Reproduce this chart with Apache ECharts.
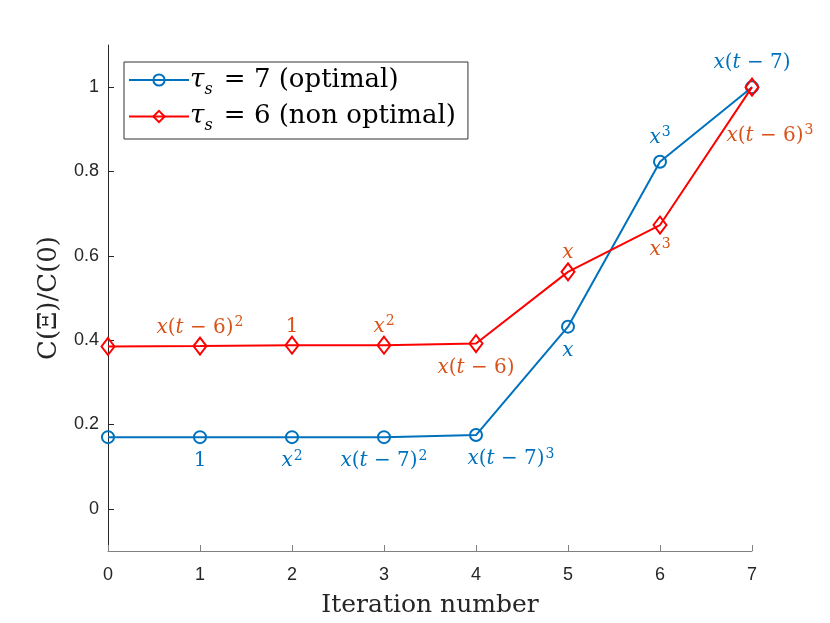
<!DOCTYPE html>
<html>
<head>
<meta charset="utf-8">
<script src="https://cdn.jsdelivr.net/npm/echarts@6/dist/echarts.min.js"></script>
<style>
  html, body { margin: 0; padding: 0; background: #fff; }
  #main { width: 830px; height: 623px; }
</style>
</head>
<body>
<div id="main"></div>
<script>
// iterations on the x axis
var iterations = [0, 1, 2, 3, 4, 5, 6, 7];

// C(Xi)/C(0) for each run
var optimalValues = [0.170, 0.170, 0.170, 0.170, 0.175, 0.432, 0.823, 1.000];
var nonOptimalValues = [0.385, 0.386, 0.388, 0.388, 0.392, 0.562, 0.673, 1.000];

// text next to each point ('' = none)
var optimalLabels = ['', '1', 'x^2', 'x(t − 7)^2', 'x(t − 7)^3', 'x', 'x^3', 'x(t − 7)'];
var nonOptimalLabels = ['', 'x(t − 6)^2', '1', 'x^2', 'x(t − 6)', 'x', 'x^3', 'x(t − 6)^3'];

var yTicks = [0, 0.2, 0.4, 0.6, 0.8, 1];

// where the labels go (kept apart from the values)
var optimalPos = ['bottom', 'bottom', 'bottom', 'bottom', 'bottom', 'bottom', 'top', 'top'];
var nonOptimalPos = ['top', 'top', 'top', 'top', 'bottom', 'top', 'bottom', 'bottom'];
var optimalShift = [null, null, null, null, [35, 0], null, null, null];
var nonOptimalShift = [null, null, null, null, null, null, null, [18, 24]];

var BLUE = '#0072BD', RED = '#FF0000', ORANGE = '#D95319';
var SERIF = '"DejaVu Serif", "Liberation Serif", serif';
var SANS = '"Liberation Sans", Roboto, sans-serif';

// turn "x(t − 7)^2" into rich text: x,t italic, ^n superscript
function toRich(s) {
  var out = '', buf = '';
  function flush() { if (buf) { out += '{n|' + buf + '}'; buf = ''; } }
  for (var i = 0; i < s.length; i++) {
    var c = s[i];
    if (c === 'x' || c === 't') { flush(); out += '{i|' + c + '}'; }
    else if (c === '^') { flush(); out += '{s|' + s[i + 1] + '}'; i++; }
    else buf += c;
  }
  flush();
  return out;
}

function richStyles(color) {
  return {
    n: { fontFamily: SERIF, fontSize: 20, color: color, lineHeight: 24 },
    i: { fontFamily: SERIF, fontSize: 20, fontStyle: 'italic', color: color, lineHeight: 24 },
    s: { fontFamily: SERIF, fontSize: 14, color: color, lineHeight: 24, verticalAlign: 'top', padding: [0, 0, 0, 1] }
  };
}

function buildData(values, labels, pos, shift, color, dTop, dBottom) {
  return iterations.map(function (it, k) {
    var item = { value: [it, values[k]] };
    if (labels[k]) {
      item.label = {
        show: true,
        position: pos[k],
        distance: pos[k] === 'top' ? dTop : dBottom,
        formatter: toRich(labels[k]),
        rich: richStyles(color)
      };
      if (shift[k]) item.label.offset = shift[k];
    }
    return item;
  });
}

var chart = echarts.init(document.getElementById('main'), null, { renderer: 'canvas' });

chart.setOption({
  animation: false,
  backgroundColor: '#fff',
  grid: { left: 108, right: 78, top: 45, bottom: 72, containLabel: false },
  legend: {
    orient: 'vertical',
    left: 124,
    top: 62,
    padding: [5, 12, 5, 4],
    itemGap: 6,
    itemWidth: 60,
    itemHeight: 14,
    borderColor: '#333',
    borderWidth: 1,
    borderRadius: 0,
    backgroundColor: '#fff',
    data: ['opt', 'nonopt'],
    formatter: function (name) {
      return name === 'opt'
        ? '{i|τ}{b|s}{n| = 7 (optimal)}'
        : '{i|τ}{b|s}{n| = 6 (non optimal)}';
    },
    textStyle: {
      padding: [0, 0, 0, -4],
      rich: {
        n: { fontFamily: SERIF, fontSize: 26, color: '#000', lineHeight: 35 },
        i: { fontFamily: SERIF, fontSize: 26, fontStyle: 'italic', color: '#000', lineHeight: 35 },
        b: { fontFamily: SERIF, fontSize: 16, fontStyle: 'italic', color: '#000', lineHeight: 35, verticalAlign: 'bottom', padding: [0, 3, 0, 0] }
      }
    }
  },
  xAxis: {
    type: 'value',
    min: 0,
    max: 7,
    interval: 1,
    name: 'Iteration number',
    nameLocation: 'middle',
    nameGap: 42,
    nameTextStyle: { fontFamily: SERIF, fontSize: 25, color: '#262626' },
    axisLine: { show: true, onZero: false, lineStyle: { color: '#808080', width: 1 } },
    axisTick: { show: true, inside: true, length: 6, lineStyle: { color: '#808080' } },
    axisLabel: { fontFamily: SANS, fontSize: 18, color: '#262626', margin: 15 },
    splitLine: { show: false }
  },
  yAxis: {
    type: 'value',
    min: -0.1,
    max: 1.1,
    name: 'C(Ξ)/C(0)',
    nameLocation: 'middle',
    nameGap: 46,
    nameTextStyle: { fontFamily: SERIF, fontSize: 26, color: '#262626' },
    axisLine: { show: true, onZero: false, lineStyle: { color: '#262626', width: 1 } },
    axisTick: { show: true, inside: true, length: 6, customValues: yTicks, lineStyle: { color: '#262626' } },
    axisLabel: {
      customValues: yTicks,
      fontFamily: SANS,
      fontSize: 18,
      color: '#262626',
      margin: 9,
      formatter: function (v) { return String(Math.round(v * 10) / 10); }
    },
    splitLine: { show: false }
  },
  series: [
    {
      name: 'opt',
      type: 'line',
      data: buildData(optimalValues, optimalLabels, optimalPos, optimalShift, BLUE, 5, 5),
      symbol: 'circle',
      symbolSize: 12,
      showAllSymbol: true,
      lineStyle: { color: BLUE, width: 2 },
      itemStyle: { color: 'rgba(255,255,255,0)', borderColor: BLUE, borderWidth: 2 },
      emphasis: { disabled: true },
      z: 3
    },
    {
      name: 'nonopt',
      type: 'line',
      data: buildData(nonOptimalValues, nonOptimalLabels, nonOptimalPos, nonOptimalShift, ORANGE, -3, 3),
      symbol: 'diamond',
      symbolSize: [13, 17],
      showAllSymbol: true,
      lineStyle: { color: RED, width: 2 },
      itemStyle: { color: 'rgba(255,255,255,0)', borderColor: RED, borderWidth: 2 },
      emphasis: { disabled: true },
      z: 4
    }
  ]
});
</script>
</body>
</html>
